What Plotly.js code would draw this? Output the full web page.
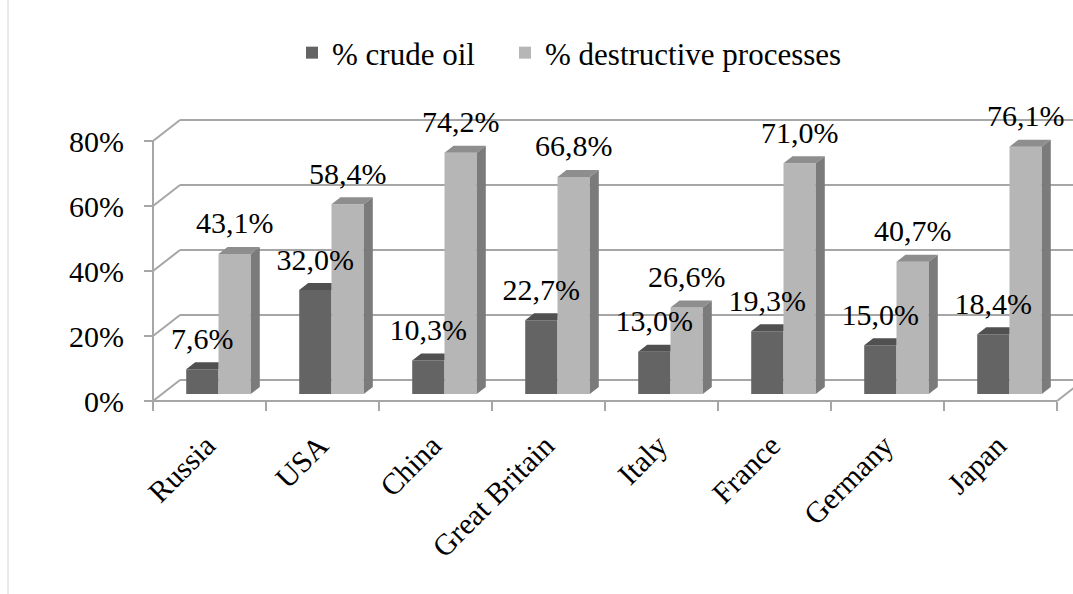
<!DOCTYPE html>
<html>
<head>
<meta charset="utf-8">
<script src="https://cdn.plot.ly/plotly-3.0.1.min.js"></script>
<style>
  html, body { margin: 0; padding: 0; background: #ffffff; }
  #chart { width: 1073px; height: 594px; }
</style>
</head>
<body>
<div id="chart"></div>
<script>
// ---------------- data ----------------
const categories = ['Russia', 'USA', 'China', 'Great Britain', 'Italy', 'France', 'Germany', 'Japan'];
const crudeOil = [7.6, 32.0, 10.3, 22.7, 13.0, 19.3, 15.0, 18.4];
const destructive = [43.1, 58.4, 74.2, 66.8, 26.6, 71.0, 40.7, 76.1];
const seriesNames = ['% crude oil', '% destructive processes'];
const yTickVals = [0, 20, 40, 60, 80];
const yTickText = ['0%', '20%', '40%', '60%', '80%'];

// ---------------- style / geometry ----------------
const FONT = '"Liberation Serif", "Times New Roman", serif';
const PX_PER_CAT = 113;          // pixels per category on the front plane
const PX_PER_PCT = 3.25;         // pixels per percent on the front plane
const DEPTH_X = 27 / PX_PER_CAT; // back wall horizontal offset (data units)
const DEPTH_Y = 21 / PX_PER_PCT; // back wall vertical offset (data units)
const BAR_W = 1 / 3.5;           // gap width 150%
const sx = DEPTH_X / 3, sy = DEPTH_Y / 3;   // bar depth = 1/3 of floor depth, set in the middle
const LABEL_UP = 28 / PX_PER_PCT;
const GRID = '#a6a6a6';
const C_DARK = '#646464', C_DARK_TOP = '#505050';
const C_LIGHT = '#b6b6b6', C_LIGHT_TOP = '#8e8e8e', C_LIGHT_SIDE = '#7b7b7b';

const N = categories.length;
const centers = categories.map((_, i) => i + 0.5);
const darkX = centers.map(c => c + sx - BAR_W / 2);
const lightX = centers.map(c => c + sx + BAR_W / 2);
const fmt = v => v.toFixed(1).replace('.', ',') + '%';

// plot area in pixels
const ML = 143, MR = 0, MT = 110, MB = 188, W = 1073, H = 594;
const plotW = W - ML - MR, plotH = H - MT - MB;
const frontLeftPx = 153, frontBottomPx = 401;
const xRange = [-(frontLeftPx - ML) / PX_PER_CAT, (W - MR - frontLeftPx) / PX_PER_CAT];
const yRange = [-(MT + plotH - frontBottomPx) / PX_PER_PCT, (frontBottomPx - MT) / PX_PER_PCT];

// ---------------- 3D faces ----------------
function polys(list) {
  const xs = [], ys = [];
  list.forEach(p => {
    p.forEach(pt => { xs.push(pt[0]); ys.push(pt[1]); });
    xs.push(p[0][0]); ys.push(p[0][1]);
    xs.push(null); ys.push(null);
  });
  return { xs, ys };
}
const darkTops = categories.map((_, i) => {
  const xl = darkX[i] - BAR_W / 2, xr = darkX[i] + BAR_W / 2, t = sy + crudeOil[i];
  if (crudeOil[i] < destructive[i]) {
    return [[xl, t], [xr, t], [xr, t + sy], [xl + sx, t + sy]];
  }
  return [[xl, t], [xr, t], [xr + sx, t + sy], [xl + sx, t + sy]];
});
const lightTops = categories.map((_, i) => {
  const xl = lightX[i] - BAR_W / 2, xr = lightX[i] + BAR_W / 2, t = sy + destructive[i];
  return [[xl, t], [xr, t], [xr + sx, t + sy], [xl + sx, t + sy]];
});
const lightSides = categories.map((_, i) => {
  const xr = lightX[i] + BAR_W / 2, t = sy + destructive[i];
  return [[xr, sy], [xr, t], [xr + sx, t + sy], [xr + sx, 2 * sy]];
});
const dt = polys(darkTops), lt = polys(lightTops), ls = polys(lightSides);

const faceTrace = (p, color) => ({
  type: 'scatter', mode: 'lines', x: p.xs, y: p.ys, fill: 'toself',
  fillcolor: color, line: { width: 0, color: color }, hoverinfo: 'skip', showlegend: false
});

const traces = [
  { type: 'bar', name: seriesNames[0], x: darkX, y: crudeOil, base: sy, width: BAR_W,
    marker: { color: C_DARK, line: { width: 0 } }, hoverinfo: 'skip', legendwidth: 168 },
  { type: 'bar', name: seriesNames[1], x: lightX, y: destructive, base: sy, width: BAR_W,
    marker: { color: C_LIGHT, line: { width: 0 } }, hoverinfo: 'skip', legendwidth: 330 },
  faceTrace(dt, C_DARK_TOP),
  faceTrace(lt, C_LIGHT_TOP),
  faceTrace(ls, C_LIGHT_SIDE),
  { type: 'scatter', mode: 'text', xaxis: 'x2', yaxis: 'y',
    x: darkX.concat(lightX),
    y: crudeOil.map(v => v + sy + LABEL_UP).concat(destructive.map(v => v + sy + LABEL_UP)),
    text: crudeOil.map(fmt).concat(destructive.map(fmt)),
    textposition: 'middle center', cliponaxis: false,
    textfont: { family: FONT, size: 30, color: '#000000' },
    hoverinfo: 'skip', showlegend: false }
];

// ---------------- walls / floor lines ----------------
const shapes = [];
const ln = (x0, y0, x1, y1) => ({ type: 'line', xref: 'x', yref: 'y', x0, y0, x1, y1,
  layer: 'below', line: { color: GRID, width: 2 } });
yTickVals.forEach(v => {
  shapes.push(ln(0, v, DEPTH_X, v + DEPTH_Y));
  shapes.push(ln(DEPTH_X, v + DEPTH_Y, N + DEPTH_X, v + DEPTH_Y));
});
shapes.push(ln(0, 0, N, 0));
shapes.push(ln(N, 0, N + DEPTH_X, DEPTH_Y));
shapes.push(ln(0, 0, 0, yTickVals[yTickVals.length - 1]));
// chart frame line on the left
shapes.push({ type: 'line', xref: 'paper', yref: 'paper',
  x0: (8 - ML) / plotW, x1: (8 - ML) / plotW, y0: -(MB) / plotH, y1: (plotH + MT) / plotH,
  line: { color: '#d4d4d4', width: 1 } });

const tickFont = { family: FONT, size: 30, color: '#000000' };
const xPos = (MT + plotH - frontBottomPx) / plotH;

const layout = {
  width: W, height: H,
  margin: { l: ML, r: MR, t: MT, b: MB, pad: 0 },
  paper_bgcolor: '#ffffff', plot_bgcolor: 'rgba(0,0,0,0)',
  barmode: 'overlay',
  showlegend: true,
  legend: {
    orientation: 'h', x: (292 - ML) / plotW, xanchor: 'left',
    y: (MT + plotH - 53) / plotH, yanchor: 'middle',
    font: { family: FONT, size: 31, color: '#000000' },
    itemwidth: 30,
    bgcolor: 'rgba(0,0,0,0)', borderwidth: 0
  },
  xaxis: {
    type: 'linear', range: xRange, anchor: 'free', position: xPos,
    showgrid: false, zeroline: false, showline: false,
    tickmode: 'array', tickvals: categories.map((_, i) => i).concat([N]),
    showticklabels: false, ticks: 'outside', ticklen: 9, tickwidth: 2, tickcolor: GRID,
    fixedrange: true
  },
  xaxis2: {
    type: 'linear', range: xRange, overlaying: 'x', anchor: 'free', position: xPos, side: 'bottom',
    showgrid: false, zeroline: false, showline: false,
    tickmode: 'array', tickvals: centers, ticktext: categories, tickangle: -45,
    ticks: '', tickfont: tickFont, ticklabelstandoff: 20, ticklabelshift: -3, fixedrange: true
  },
  yaxis: {
    type: 'linear', range: yRange, anchor: 'free', position: (frontLeftPx - ML) / plotW,
    showgrid: false, zeroline: false, showline: false,
    tickmode: 'array', tickvals: yTickVals, ticktext: yTickText,
    ticks: 'outside', ticklen: 9, tickwidth: 2, tickcolor: GRID,
    tickfont: tickFont, ticklabelstandoff: 14, fixedrange: true
  },
  shapes: shapes,
  hovermode: false
};

Plotly.newPlot('chart', traces, layout, { displayModeBar: false, staticPlot: true });
</script>
</body>
</html>
